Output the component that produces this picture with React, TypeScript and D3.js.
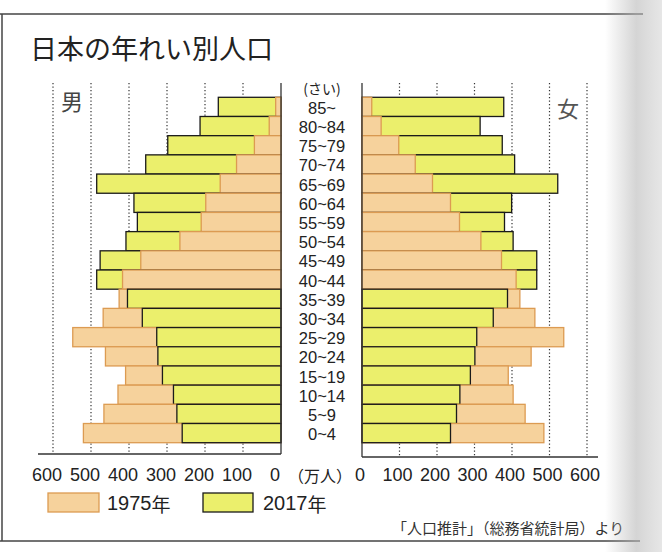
import React from "react";
import * as d3 from "d3";

// age groups, top to bottom
const ages = ["85~", "80~84", "75~79", "70~74", "65~69", "60~64", "55~59", "50~54", "45~49",
  "40~44", "35~39", "30~34", "25~29", "20~24", "15~19", "10~14", "5~9", "0~4"];

// 万人
const male1975 = [14, 31, 70, 117, 160, 198, 210, 266, 369, 417, 426, 468, 548, 462, 409, 429, 466, 520];
const male2017 = [165, 213, 298, 356, 485, 387, 378, 408, 476, 485, 404, 365, 327, 324, 312, 283, 274, 260];
const female1975 = [26, 51, 98, 142, 188, 236, 260, 317, 372, 411, 421, 461, 538, 451, 390, 403, 435, 485];
const female2017 = [378, 315, 374, 407, 522, 399, 380, 403, 466, 466, 388, 350, 306, 301, 289, 261, 252, 236];

const ticks = [0, 100, 200, 300, 400, 500, 600];

const ORANGE = "#f6d29c";
const ORANGE_STROKE = "#dc9b52";
const GREEN = "#ebef6c";
const GREEN_STROKE = "#1a1a1a";
const NUM_FONT = "'Liberation Sans', Arial, sans-serif";
const JP_FONT = "'Noto Sans CJK JP', sans-serif";

export default function App() {
  const W = 662, H = 552;
  const y = d3.scaleBand().domain(ages).range([97.3, 442.7]).padding(0);
  const xL = d3.scaleLinear().domain([0, 600]).range([281, 53]);
  const xR = d3.scaleLinear().domain([0, 600]).range([362, 587]);
  const gridTop = 83;

  const rows = (side: "m" | "f") =>
    ages.map((age, i) => {
      const v75 = side === "m" ? male1975[i] : female1975[i];
      const v17 = side === "m" ? male2017[i] : female2017[i];
      const bars = [
        { v: v75, fill: ORANGE, stroke: ORANGE_STROKE },
        { v: v17, fill: GREEN, stroke: GREEN_STROKE },
      ].sort((a, b) => b.v - a.v); // bigger behind
      return (
        <g key={side + age}>
          {bars.map((b, j) => {
            const x0 = side === "m" ? xL(b.v) : xR(0);
            const w = side === "m" ? xL(0) - xL(b.v) : xR(b.v) - xR(0);
            return (
              <rect key={j} x={x0} y={y(age)!} width={w} height={y.bandwidth()}
                fill={b.fill} stroke={b.stroke} strokeWidth={1.3} />
            );
          })}
        </g>
      );
    });

  return (
    <svg width={W} height={H} style={{ position: "absolute", left: 0, top: 0, background: "#fff" }}>
      <defs>
        <linearGradient id="shade" x1="0" x2="1" y1="0" y2="0">
          <stop offset="0" stopColor="#b8b8b8" stopOpacity="0" />
          <stop offset="0.55" stopColor="#b8b8b8" stopOpacity="0.6" />
          <stop offset="1" stopColor="#c8c8c8" stopOpacity="0.45" />
        </linearGradient>
      </defs>

      {/* frame */}
      <line x1={0} x2={643} y1={14} y2={14} stroke="#444" strokeWidth={1.5} />
      <line x1={2} x2={2} y1={14} y2={541} stroke="#444" strokeWidth={1.5} />
      <line x1={0} x2={640} y1={541} y2={541} stroke="#444" strokeWidth={1.5} />

      <text x={30} y={47} fontFamily={JP_FONT} fontSize={27} dominantBaseline="central" fill="#222">
        日本の年れい別人口
      </text>

      {/* grid */}
      {ticks.slice(1).map(t => (
        <g key={"g" + t}>
          <line x1={xL(t)} x2={xL(t)} y1={gridTop} y2={454} stroke="#333" strokeWidth={1.2} strokeDasharray="1.3,2.2" />
          <line x1={xR(t)} x2={xR(t)} y1={gridTop} y2={457} stroke="#333" strokeWidth={1.2} strokeDasharray="1.3,2.2" />
        </g>
      ))}

      {rows("m")}
      {rows("f")}

      {/* axes */}
      <line x1={xL(0)} x2={xL(0)} y1={gridTop} y2={454} stroke="#333" strokeWidth={1.3} />
      <line x1={38} x2={xL(0)} y1={454} y2={454} stroke="#333" strokeWidth={1.5} />
      <line x1={xR(0)} x2={xR(0)} y1={gridTop} y2={457} stroke="#333" strokeWidth={1.3} />
      <line x1={xR(0)} x2={598} y1={457} y2={457} stroke="#333" strokeWidth={1.5} />

      {ticks.map(t => (
        <g key={"t" + t} fontFamily={NUM_FONT} fontSize={18} fill="#222" textAnchor="middle">
          <text x={xL(t) - 6} y={481}>{t}</text>
          <text x={xR(t) - 2} y={481}>{t}</text>
        </g>
      ))}
      <text x={320} y={475} fontFamily={JP_FONT} fontSize={16} textAnchor="middle" dominantBaseline="central" fill="#222">
        （万人）
      </text>

      {/* age labels */}
      <text x={322} y={88} fontFamily={JP_FONT} fontSize={14} textAnchor="middle" dominantBaseline="central" fill="#222">
        (さい)
      </text>
      {ages.map(a => (
        <text key={a} x={322} y={y(a)! + y.bandwidth() / 2 + 1} fontFamily={NUM_FONT} fontSize={16.5}
          textAnchor="middle" dominantBaseline="central" fill="#222">
          {a}
        </text>
      ))}

      <text x={72} y={100} fontFamily={JP_FONT} fontSize={22} textAnchor="middle" dominantBaseline="central" fill="#444">男</text>
      <text x={568} y={107} fontFamily={JP_FONT} fontSize={22} textAnchor="middle" dominantBaseline="central" fill="#555">女</text>

      {/* legend */}
      <rect x={48} y={493} width={51} height={19} fill={ORANGE} stroke={ORANGE_STROKE} strokeWidth={1.3} />
      <text x={107} y={503} fontFamily={NUM_FONT} fontSize={20} dominantBaseline="central" fill="#222">
        1975<tspan fontFamily={JP_FONT} fontSize={19}>年</tspan>
      </text>
      <rect x={203} y={493} width={50} height={19} fill={GREEN} stroke={GREEN_STROKE} strokeWidth={1.3} />
      <text x={263} y={503} fontFamily={NUM_FONT} fontSize={20} dominantBaseline="central" fill="#222">
        2017<tspan fontFamily={JP_FONT} fontSize={19}>年</tspan>
      </text>

      <text x={392} y={527} fontFamily={JP_FONT} fontSize={15} dominantBaseline="central" fill="#333">
        「人口推計」（総務省統計局）より
      </text>

      {/* page curvature shadow */}
      <rect x={605} y={0} width={57} height={H} fill="url(#shade)" />
    </svg>
  );
}
